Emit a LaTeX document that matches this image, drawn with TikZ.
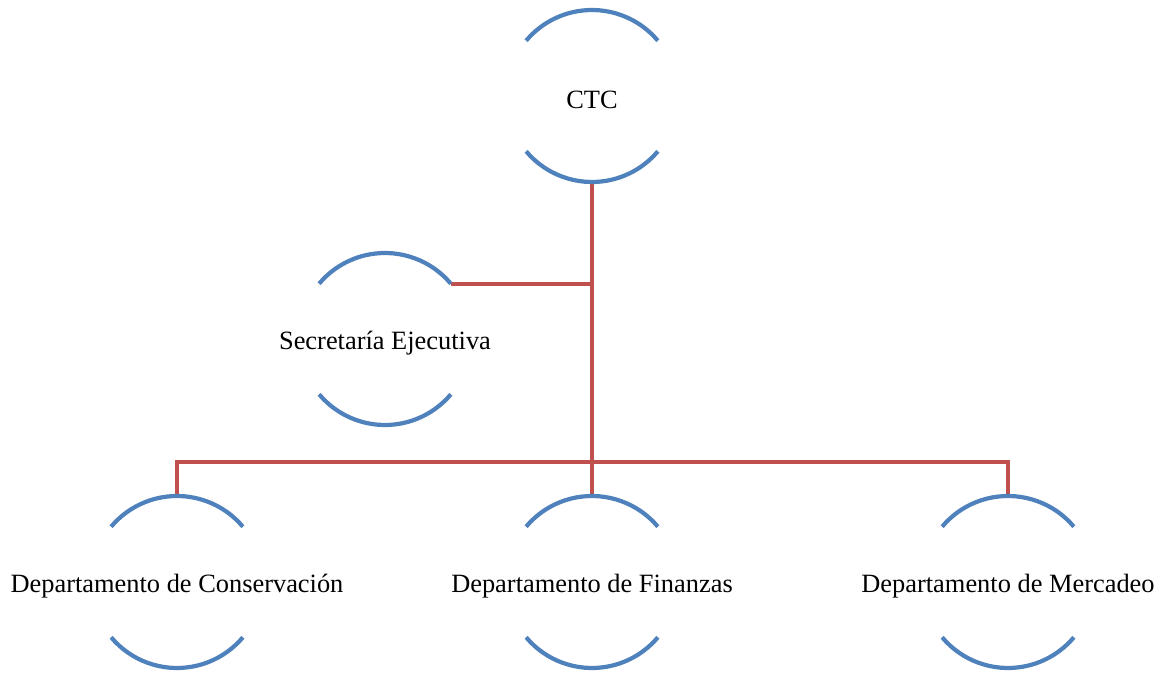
\documentclass[tikz,border=0pt]{standalone}
\usepackage{fontspec}
\setmainfont{Liberation Serif}
\usetikzlibrary{calc}
\definecolor{arcblue}{HTML}{4F81BD}
\definecolor{linkred}{HTML}{C0504D}
\tikzset{
  lbl/.style={inner sep=0pt, yshift=-4pt, font=\fontsize{26.4}{30}\selectfont, text=black},
  arcline/.style={draw=arcblue, line width=4.2pt},
  link/.style={draw=linkred, line width=4.2pt},
}
\newcommand{\openring}[1]{%
  \draw[arcline] ($(#1)+(40:86)$) arc[start angle=40, end angle=140, radius=86];
  \draw[arcline] ($(#1)+(220:86)$) arc[start angle=220, end angle=320, radius=86];
}
\begin{document}
\begin{tikzpicture}[x=1pt,y=1pt]
\useasboundingbox (0,0) rectangle (1163,673);
% centres
\coordinate (cCTC) at (592,577);
\coordinate (cSEC) at (385,334);
\coordinate (cCON) at (177,91);
\coordinate (cFIN) at (592,91);
\coordinate (cMER) at (1008,91);
% labels
\node[lbl] (ctc) at (cCTC) {CTC};
\node[lbl] (sec) at (cSEC) {Secretaría Ejecutiva};
\node[lbl] (con) at (cCON) {Departamento de Conservación};
\node[lbl] (fin) at (cFIN) {Departamento de Finanzas};
\node[lbl] (mer) at (cMER) {Departamento de Mercadeo};
% ring ends used by connectors
\coordinate (ctcB) at ($(cCTC)+(0,-86)$);
\coordinate (secR) at ($(cSEC)+(40:86)$);
\coordinate (conT) at ($(cCON)+(0,86)$);
\coordinate (finT) at ($(cFIN)+(0,86)$);
\coordinate (merT) at ($(cMER)+(0,86)$);
\coordinate (busL) at (177,211);
\coordinate (busR) at (1008,211);
\coordinate (secJ) at (secR -| ctcB);
% connectors
\draw[link] (ctcB) -- (finT);
\draw[link] (secR) -- (secJ);
\draw[link] (conT) -- (busL) -- (busR) -- (merT);
% rings
\openring{cCTC}
\openring{cSEC}
\openring{cCON}
\openring{cFIN}
\openring{cMER}
\end{tikzpicture}
\end{document}
